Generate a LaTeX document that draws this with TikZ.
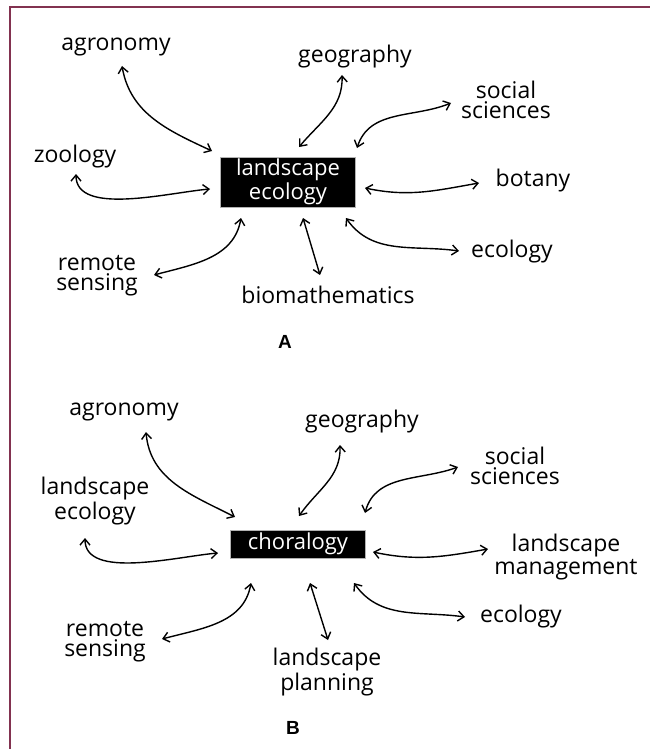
\documentclass[tikz,border=0pt]{standalone}
\usepackage{fontspec}
\setmainfont{Open Sans}
\newfontfamily\lblfont{Liberation Sans}
\usetikzlibrary{arrows.meta}
\definecolor{framered}{RGB}{130,50,80}

\begin{document}
\begin{tikzpicture}[x=0.5pt,y=0.5pt,
    lbl/.style={align=center,inner sep=0pt,font=\fontsize{11.5}{10}\selectfont},
    hub/.style={fill=black,draw=gray!60,text=white,inner sep=0pt,align=center,
      minimum width=67.5pt,font=\fontsize{11}{9.5}\selectfont},
    arr/.style={{Straight Barb[length=3pt,width=5pt]}-{Straight Barb[length=3pt,width=5pt]},
      line width=0.7pt},
    panel/.style={font=\lblfont\bfseries\fontsize{9.5}{11}\selectfont}]
  \useasboundingbox[fill=white] (0,0) rectangle (650,-749);
  \draw[framered,line width=1pt] (10,-749) -- (10,-7) -- (650,-7);

  % panel A
  \node[hub,minimum height=25pt](hubA) at (288,-182){landscape\\ecology};
  \node[lbl](agroA) at (116,-47){agronomy};
  \node[lbl](geoA) at (355,-57){geography};
  \node[lbl](socA) at (506,-100){social\\sciences};
  \node[lbl](zooA) at (75,-157){zoology};
  \node[lbl](botA) at (533,-181){botany};
  \node[lbl](ecoA) at (512,-252){ecology};
  \node[lbl](remA) at (97,-276){remote\\sensing};
  \node[lbl](bioA) at (328,-295){biomathematics};
  \node[panel](tagA) at (285,-342){A};

  \draw[arr]([shift={(6,-19)}]agroA.center) to[out=-80,in=155] ([shift={(-76,31)}]hubA.center);
  \draw[arr]([shift={(-13,-18)}]geoA.center) to[out=-88,in=50] ([shift={(11,35)}]hubA.center);
  \draw[arr]([shift={(-55,-3)}]socA.center) to[out=-158,in=72] ([shift={(69,34)}]hubA.center);
  \draw[arr]([shift={(1,-17)}]zooA.center) to[out=-90,in=185,looseness=0.8] ([shift={(-78,-7)}]hubA.center);
  \draw[arr]([shift={(77,-6)}]hubA.center) to[out=-12,in=190] ([shift={(-54,-2)}]botA.center);
  \draw[arr]([shift={(58,-36)}]hubA.center) to[out=-55,in=172] ([shift={(-53,1)}]ecoA.center);
  \draw[arr]([shift={(-47,-36)}]hubA.center) to[out=-100,in=15] ([shift={(57,1)}]remA.center);
  \draw[arr]([shift={(15,-36)}]hubA.center) -- ([shift={(-8,20)}]bioA.center);

  % panel B
  \node[hub,minimum height=14pt](hubB) at (298,-544){choralogy};
  \node[lbl](agroB) at (124,-412){agronomy};
  \node[lbl](geoB) at (362,-422){geography};
  \node[lbl](socB) at (515,-466){social\\sciences};
  \node[lbl](leB) at (95,-501){landscape\\ecology};
  \node[lbl](lmB) at (566,-557){landscape\\management};
  \node[lbl](ecoB) at (521,-617){ecology};
  \node[lbl](remB) at (105,-642){remote\\sensing};
  \node[lbl](lpB) at (327,-672){landscape\\planning};
  \node[panel](tagB) at (293,-728){B};

  \draw[arr]([shift={(22,-20)}]agroB.center) to[out=-85,in=153] ([shift={(-63,27)}]hubB.center);
  \draw[arr]([shift={(-22,-23)}]geoB.center) to[out=-88,in=55] ([shift={(1,28)}]hubB.center);
  \draw[arr]([shift={(-57,-1)}]socB.center) to[out=-160,in=75] ([shift={(67,31)}]hubB.center);
  \draw[arr]([shift={(-10,-37)}]leB.center) to[out=-90,in=185,looseness=0.8] ([shift={(-80,-9)}]hubB.center);
  \draw[arr]([shift={(75,-8)}]hubB.center) to[out=-12,in=190] ([shift={(-78,8)}]lmB.center);
  \draw[arr]([shift={(56,-39)}]hubB.center) to[out=-55,in=172] ([shift={(-56,0)}]ecoB.center);
  \draw[arr]([shift={(-47,-39)}]hubB.center) to[out=-100,in=15] ([shift={(57,3)}]remB.center);
  \draw[arr]([shift={(12,-39)}]hubB.center) -- ([shift={(1,32)}]lpB.center);
\end{tikzpicture}
\end{document}
